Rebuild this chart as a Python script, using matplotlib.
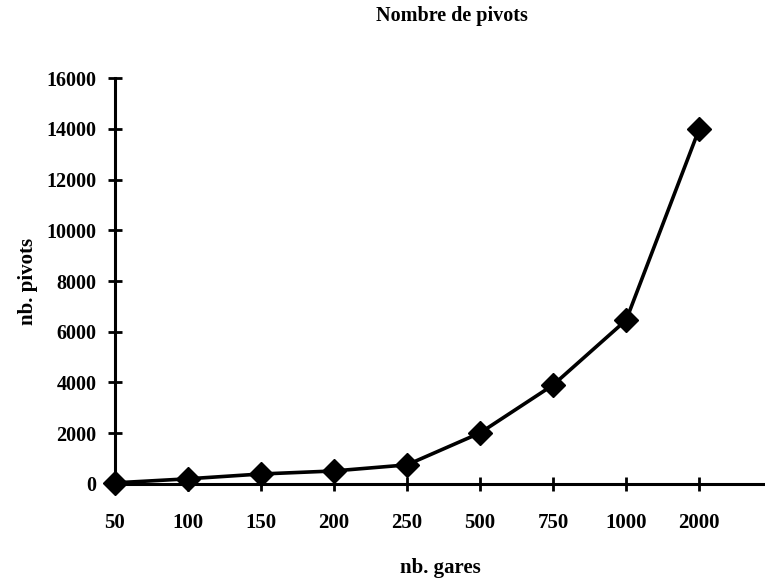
import matplotlib.pyplot as plt

# nombre de gares (catégories) et nombre de pivots
gares = ["50", "100", "150", "200", "250", "500", "750", "1000", "2000"]
pivots = [40, 200, 390, 510, 750, 2010, 3900, 6460, 14000]
yticks = [0, 2000, 4000, 6000, 8000, 10000, 12000, 14000, 16000]

plt.rcParams['font.family'] = ['Liberation Serif', 'DejaVu Serif']
plt.rcParams['font.weight'] = 'bold'

fig = plt.figure(figsize=(7.65, 5.83), dpi=100)
ax = fig.add_axes([0.150, 0.170, 0.850, 0.696])

pos = list(range(len(gares)))
ax.plot(pos, pivots, color='black', lw=2.6, marker='D', markersize=12.5,
        clip_on=False, zorder=5)

ax.set_xlim(0, 8.9)
ax.set_ylim(0, 16000)
ax.set_xticks(pos)
ax.set_xticklabels(gares, fontsize=15, fontweight='bold')
ax.set_yticks(yticks)
ax.set_yticklabels([str(v) for v in yticks], fontsize=14.5, fontweight='bold')

for side in ['top', 'right']:
    ax.spines[side].set_visible(False)
for side in ['left', 'bottom']:
    ax.spines[side].set_linewidth(2.2)

ax.tick_params(axis='both', direction='inout', length=10, width=2, pad=8)
ax.tick_params(axis='x', pad=16)

ax.set_title('Nombre de pivots', fontsize=14.5, fontweight='bold', x=0.518, y=1.12)
ax.set_xlabel('nb. gares', fontsize=15, fontweight='bold', labelpad=18)
ax.set_ylabel('nb. pivots', fontsize=15, fontweight='bold', labelpad=6)

fig.savefig('out.png', dpi=100)
